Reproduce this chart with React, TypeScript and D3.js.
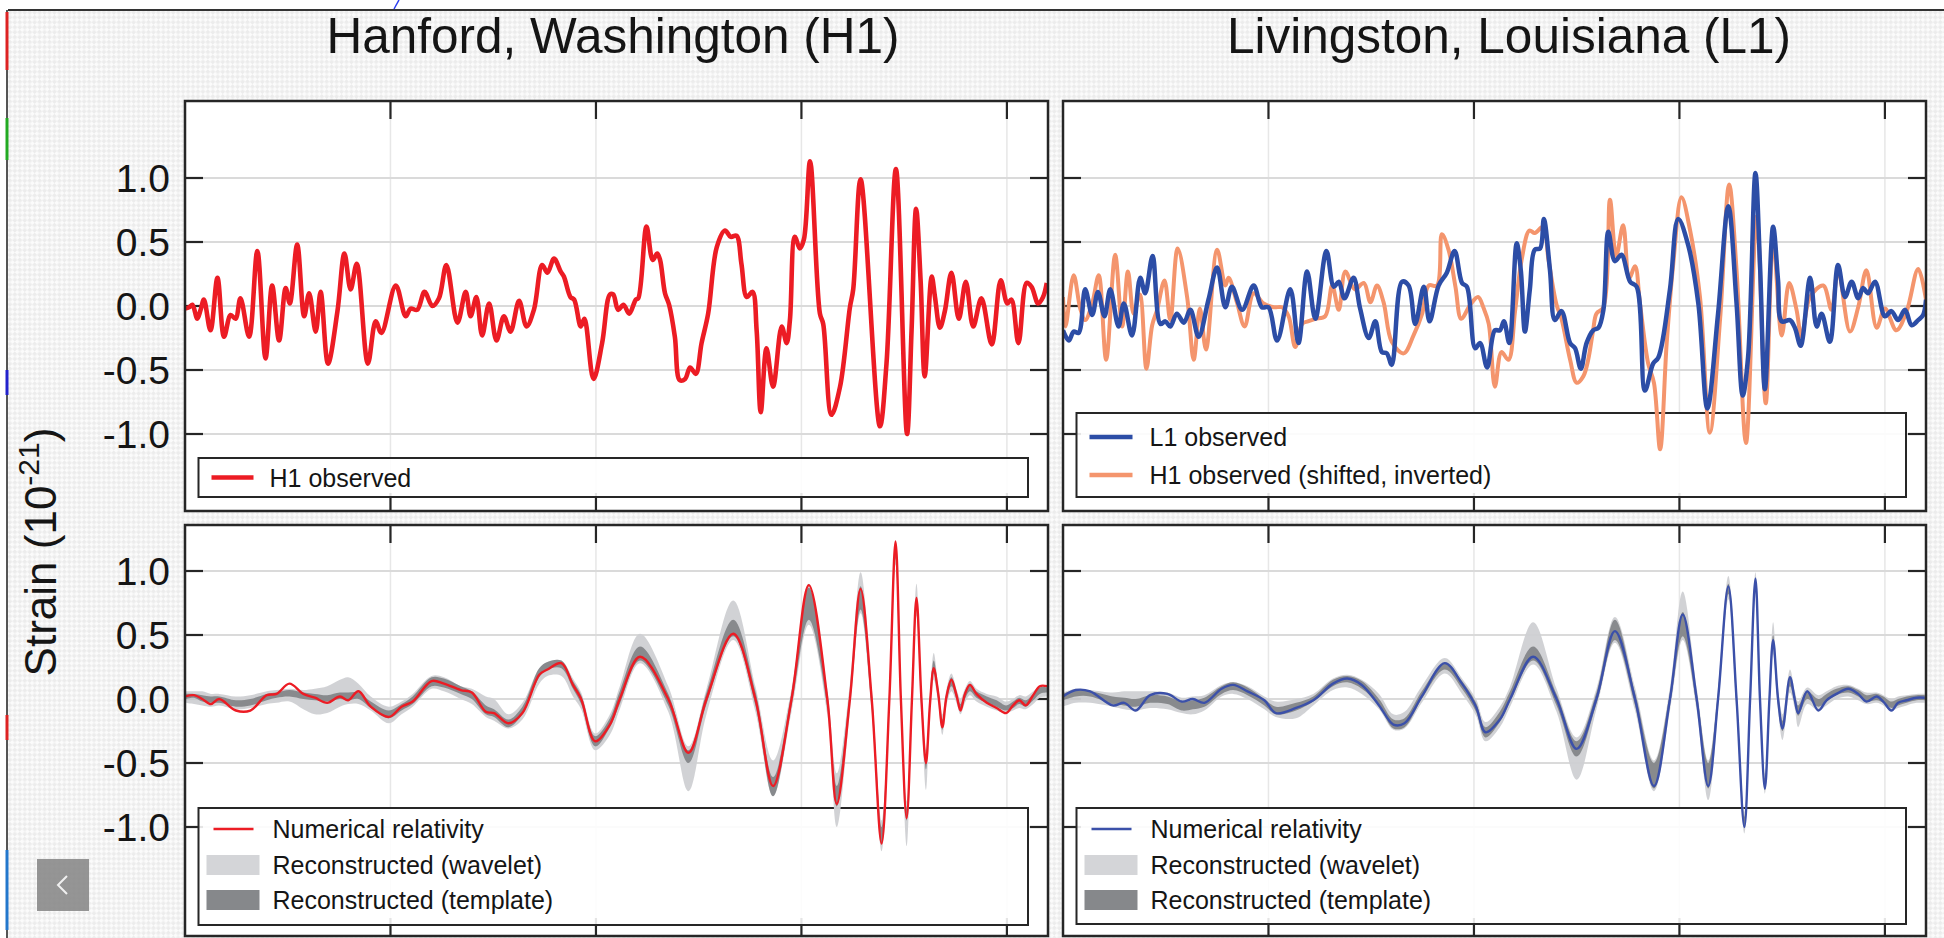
import React from "react";
import * as d3 from "d3";

// ---------------- data (time in s, strain in 1e-21) ----------------
const xTickValues = [0.3, 0.35, 0.4, 0.45];
const yTickValues = [-1, -0.5, 0, 0.5, 1];
const yTickLabels = ["-1.0", "-0.5", "0.0", "0.5", "1.0"];
const titles = ["Hanford, Washington (H1)", "Livingston, Louisiana (L1)"];
const legendTopLeft = ["H1 observed"];
const legendTopRight = ["L1 observed", "H1 observed (shifted, inverted)"];
const legendBottom = ["Numerical relativity", "Reconstructed (wavelet)", "Reconstructed (template)"];

// H1 observed (top-left)
const h1ObsT = [0.25, 0.251, 0.2518, 0.253, 0.2538, 0.2546, 0.2562, 0.2579, 0.2595, 0.2611, 0.2623, 0.2635, 0.2656, 0.2676, 0.2696, 0.2712, 0.2729, 0.2745, 0.2755, 0.2773, 0.279, 0.2802, 0.2818, 0.283, 0.2848, 0.2871, 0.2888, 0.2903, 0.2918, 0.2945, 0.2964, 0.2978, 0.3013, 0.3037, 0.3049, 0.3065, 0.3083, 0.3102, 0.3118, 0.3136, 0.3163, 0.3183, 0.3195, 0.3209, 0.3223, 0.324, 0.3258, 0.3276, 0.3292, 0.3313, 0.3331, 0.3349, 0.3369, 0.3382, 0.3398, 0.3414, 0.3422, 0.3438, 0.3447, 0.3463, 0.3472, 0.3494, 0.3515, 0.3534, 0.3542, 0.3554, 0.3567, 0.3581, 0.3597, 0.3603, 0.3623, 0.3638, 0.3649, 0.3656, 0.3668, 0.3678, 0.3692, 0.3704, 0.3717, 0.3729, 0.3743, 0.3757, 0.3773, 0.3794, 0.3814, 0.3828, 0.3842, 0.3854, 0.3867, 0.3881, 0.3891, 0.3901, 0.3915, 0.3931, 0.3952, 0.3964, 0.3972, 0.3984, 0.3996, 0.4006, 0.4021, 0.4045, 0.4053, 0.4073, 0.4094, 0.4118, 0.4126, 0.4144, 0.4191, 0.4207, 0.423, 0.4257, 0.4268, 0.4279, 0.429, 0.43, 0.4317, 0.4325, 0.4337, 0.4349, 0.4365, 0.4383, 0.44, 0.4418, 0.4438, 0.4463, 0.4485, 0.4501, 0.4511, 0.4528, 0.4548, 0.456, 0.4576, 0.4588, 0.4597];
const h1ObsV = [-0.02, -0.01, 0.01, -0.1, -0.03, 0.05, -0.19, 0.22, -0.24, -0.07, -0.1, 0.06, -0.24, 0.43, -0.41, 0.16, -0.27, 0.14, 0.02, 0.48, -0.08, 0.1, -0.2, 0.11, -0.45, -0.04, 0.41, 0.13, 0.33, -0.45, -0.12, -0.21, 0.16, -0.08, -0.02, -0.03, 0.11, 0.0, 0.06, 0.32, -0.13, 0.11, -0.08, 0.07, -0.23, 0.02, -0.27, -0.08, -0.2, 0.04, -0.16, -0.03, 0.32, 0.26, 0.37, 0.27, 0.23, 0.07, 0.05, -0.16, -0.1, -0.57, -0.29, 0.09, 0.09, -0.03, 0.01, -0.06, 0.05, 0.06, 0.62, 0.36, 0.41, 0.36, 0.1, 0.01, -0.24, -0.58, -0.57, -0.48, -0.53, -0.29, -0.06, 0.46, 0.59, 0.54, 0.55, 0.33, 0.07, 0.11, -0.19, -0.83, -0.33, -0.63, -0.16, -0.29, -0.11, 0.54, 0.45, 0.52, 1.13, -0.06, -0.14, -0.85, -0.63, -0.01, 0.13, 0.99, -0.94, -0.45, 1.07, -1.0, -0.19, 0.76, 0.2, -0.55, 0.23, 0.07, -0.17, -0.04, 0.26, -0.1, 0.19, -0.16, 0.06, -0.3, 0.2, 0.02, 0.05, -0.29, 0.18, 0.15, 0.02, 0.07, 0.18];

// L1 observed (top-right, blue)
const l1ObsT = [0.25, 0.2514, 0.2526, 0.2538, 0.2554, 0.2571, 0.2585, 0.2601, 0.2615, 0.2635, 0.2648, 0.2668, 0.2688, 0.27, 0.2718, 0.2737, 0.2749, 0.2761, 0.2777, 0.2794, 0.281, 0.283, 0.2854, 0.2875, 0.2895, 0.2911, 0.2936, 0.2964, 0.2984, 0.3, 0.3021, 0.3053, 0.3073, 0.3094, 0.3114, 0.3141, 0.3159, 0.3171, 0.3185, 0.3207, 0.3223, 0.3244, 0.326, 0.3276, 0.3288, 0.33, 0.3325, 0.3341, 0.3357, 0.3378, 0.3392, 0.3414, 0.3434, 0.3453, 0.3471, 0.3483, 0.3503, 0.3515, 0.3532, 0.3551, 0.3563, 0.3573, 0.3586, 0.3604, 0.3614, 0.3624, 0.3636, 0.3648, 0.3661, 0.367, 0.3685, 0.3697, 0.3713, 0.3734, 0.3746, 0.376, 0.3774, 0.379, 0.3803, 0.3815, 0.3827, 0.3843, 0.3859, 0.388, 0.3896, 0.3916, 0.3936, 0.3949, 0.3977, 0.3997, 0.4021, 0.4046, 0.4068, 0.4094, 0.4119, 0.4139, 0.4154, 0.4167, 0.4185, 0.4196, 0.4208, 0.4228, 0.424, 0.4249, 0.4269, 0.4281, 0.4295, 0.4318, 0.4334, 0.4346, 0.4366, 0.4386, 0.4403, 0.4419, 0.4435, 0.4447, 0.4459, 0.4476, 0.45, 0.4516, 0.4532, 0.4549, 0.4565, 0.4581, 0.4593, 0.46];
const l1ObsV = [-0.19, -0.27, -0.2, -0.21, 0.13, -0.07, 0.11, -0.08, 0.13, -0.16, 0.02, -0.23, 0.22, 0.1, 0.39, -0.14, -0.12, -0.16, -0.06, -0.13, -0.03, -0.24, 0.05, 0.3, -0.01, 0.15, -0.03, 0.16, -0.01, -0.01, -0.27, 0.13, -0.29, 0.27, -0.1, 0.43, 0.15, 0.19, 0.06, 0.22, -0.02, -0.25, -0.12, -0.36, -0.37, -0.46, 0.19, 0.16, -0.14, 0.15, -0.12, 0.16, 0.26, 0.43, 0.18, 0.15, -0.33, -0.29, -0.48, -0.19, -0.19, -0.12, -0.29, 0.49, 0.28, -0.2, 0.13, 0.44, 0.45, 0.68, 0.28, -0.11, -0.04, -0.29, -0.33, -0.49, -0.29, -0.19, -0.17, -0.03, 0.58, 0.35, 0.4, 0.19, 0.15, -0.66, -0.45, -0.4, 0.13, 0.68, 0.48, 0.02, -0.8, -0.06, 0.78, 0.02, -0.7, -0.4, 1.04, 0.33, -0.65, 0.62, 0.2, -0.12, -0.11, -0.17, -0.31, 0.22, -0.16, -0.06, -0.28, 0.32, 0.07, 0.19, 0.06, 0.14, 0.1, 0.19, -0.08, -0.04, -0.11, -0.03, -0.15, -0.11, -0.07, 0.05];

// H1 observed, shifted and inverted (top-right, orange)
const h1ShiftT = [0.25, 0.2506, 0.2526, 0.2542, 0.2554, 0.2571, 0.2587, 0.2605, 0.2627, 0.2644, 0.2658, 0.2672, 0.2687, 0.2703, 0.2717, 0.2729, 0.2747, 0.2761, 0.2779, 0.2802, 0.2818, 0.2833, 0.2848, 0.2875, 0.2895, 0.2903, 0.2923, 0.2942, 0.2964, 0.2988, 0.3013, 0.3033, 0.3049, 0.3065, 0.3082, 0.3096, 0.3114, 0.3138, 0.3155, 0.3171, 0.3187, 0.321, 0.3232, 0.3248, 0.3264, 0.328, 0.33, 0.3329, 0.3353, 0.3374, 0.339, 0.341, 0.3422, 0.3438, 0.3455, 0.3469, 0.3491, 0.351, 0.3524, 0.3536, 0.3551, 0.3567, 0.3584, 0.36, 0.3616, 0.3635, 0.3648, 0.3669, 0.3681, 0.3701, 0.3713, 0.3734, 0.375, 0.3766, 0.3778, 0.379, 0.3798, 0.3815, 0.3831, 0.3846, 0.3863, 0.3878, 0.3892, 0.3904, 0.3924, 0.3938, 0.3953, 0.3969, 0.3985, 0.4005, 0.4026, 0.405, 0.4074, 0.4099, 0.4121, 0.4139, 0.4162, 0.4188, 0.421, 0.4228, 0.4249, 0.4267, 0.4285, 0.4297, 0.4318, 0.435, 0.437, 0.4386, 0.4415, 0.4435, 0.4455, 0.448, 0.45, 0.4528, 0.4553, 0.4581, 0.46];
const h1ShiftV = [0.07, -0.16, 0.24, -0.02, -0.11, 0.02, 0.24, -0.42, 0.4, -0.16, 0.27, -0.06, 0.09, -0.49, -0.15, -0.03, 0.2, -0.11, 0.45, 0.07, -0.42, -0.02, -0.34, 0.44, 0.16, 0.22, 0.03, -0.16, 0.1, 0.02, -0.01, -0.01, -0.08, -0.32, -0.14, -0.12, -0.1, -0.08, 0.16, -0.03, 0.27, 0.13, 0.18, 0.03, 0.16, 0.03, -0.28, -0.37, -0.23, -0.06, 0.16, 0.16, 0.56, 0.44, 0.15, -0.1, 0.01, 0.07, -0.02, -0.14, -0.63, -0.36, -0.42, -0.04, 0.36, 0.59, 0.57, 0.62, 0.37, 0.01, -0.1, -0.42, -0.6, -0.55, -0.42, -0.19, -0.06, -0.01, 0.83, 0.39, 0.63, 0.22, 0.31, 0.02, -0.45, -0.6, -1.12, -0.29, 0.33, 0.85, 0.59, 0.07, -0.99, -0.1, 0.95, 0.28, -1.07, 0.7, -0.76, 0.52, -0.23, 0.18, -0.03, -0.24, 0.07, 0.16, -0.03, 0.28, -0.2, -0.01, 0.28, -0.17, -0.02, -0.19, -0.04, 0.29, 0.05];

// H1 reconstruction (bottom-left)
const h1RecT = [0.25, 0.2522, 0.2542, 0.2563, 0.2583, 0.2624, 0.2659, 0.2699, 0.2723, 0.2754, 0.2788, 0.2816, 0.2846, 0.2877, 0.2897, 0.2922, 0.2952, 0.2996, 0.3027, 0.3054, 0.31, 0.313, 0.3171, 0.3198, 0.3232, 0.3252, 0.3287, 0.3321, 0.3362, 0.3382, 0.3416, 0.3444, 0.3464, 0.3498, 0.3534, 0.3558, 0.3607, 0.3676, 0.3725, 0.3769, 0.3834, 0.3888, 0.3931, 0.3976, 0.4018, 0.4063, 0.4086, 0.4118, 0.4144, 0.4171, 0.4195, 0.4214, 0.4229, 0.4242, 0.4256, 0.4269, 0.428, 0.4292, 0.4303, 0.4313, 0.4322, 0.4333, 0.4343, 0.4353, 0.4365, 0.4378, 0.4387, 0.4398, 0.441, 0.4426, 0.4451, 0.4475, 0.4498, 0.4515, 0.453, 0.4546, 0.4564, 0.458, 0.4598];
const h1NR = [0.02, 0.03, 0.0, -0.04, 0.0, -0.09, -0.09, 0.03, 0.04, 0.12, 0.04, 0.01, -0.03, 0.02, -0.01, 0.06, -0.06, -0.14, -0.06, -0.02, 0.14, 0.12, 0.07, 0.05, -0.1, -0.11, -0.19, -0.11, 0.19, 0.23, 0.28, 0.11, 0.0, -0.33, -0.2, 0.0, 0.33, 0.0, -0.42, 0.0, 0.51, 0.0, -0.68, 0.0, 0.89, 0.0, -0.82, 0.0, 0.86, 0.0, -1.13, 0.0, 1.23, 0.0, -0.93, 0.0, 0.79, 0.0, -0.5, -0.03, 0.24, 0.04, -0.22, 0.02, 0.15, 0.02, -0.09, 0.04, 0.11, 0.04, -0.03, -0.07, -0.11, -0.05, -0.01, -0.05, 0.03, 0.1, 0.1];
const h1TplLo = [0.0, 0.01, -0.02, -0.03, -0.03, -0.06, -0.05, -0.01, 0.01, 0.02, 0.0, -0.01, -0.02, 0.0, -0.01, 0.0, -0.07, -0.15, -0.09, -0.04, 0.1, 0.09, 0.04, 0.0, -0.12, -0.14, -0.22, -0.12, 0.17, 0.23, 0.24, 0.08, -0.04, -0.37, -0.22, -0.04, 0.3, -0.05, -0.5, -0.04, 0.49, -0.05, -0.76, -0.05, 0.62, -0.06, -0.84, -0.05, 0.7, -0.06, -1.13, -0.06, 1.1, -0.06, -0.95, -0.06, 0.7, -0.06, -0.55, -0.06, 0.2, 0.0, -0.24, -0.02, 0.1, -0.01, -0.09, 0.0, 0.06, 0.01, -0.03, -0.06, -0.09, -0.07, -0.04, -0.06, -0.01, 0.04, 0.05];
const h1TplHi = [0.04, 0.04, 0.03, 0.02, 0.02, -0.01, 0.0, 0.04, 0.05, 0.07, 0.05, 0.04, 0.03, 0.05, 0.05, 0.05, -0.02, -0.09, -0.04, 0.02, 0.17, 0.16, 0.1, 0.06, -0.05, -0.08, -0.16, -0.06, 0.24, 0.29, 0.3, 0.14, 0.03, -0.29, -0.15, 0.06, 0.41, 0.04, -0.4, 0.05, 0.62, 0.06, -0.61, 0.05, 0.87, 0.05, -0.68, 0.06, 0.88, 0.06, -1.0, 0.06, 1.2, 0.06, -0.85, 0.06, 0.8, 0.06, -0.45, 0.03, 0.3, 0.08, -0.16, 0.05, 0.17, 0.05, -0.04, 0.06, 0.12, 0.06, 0.02, -0.01, -0.05, -0.02, 0.01, -0.01, 0.04, 0.09, 0.09];
const h1WavLo = [-0.03, -0.04, -0.05, -0.06, -0.05, -0.08, -0.07, -0.04, -0.03, -0.02, -0.08, -0.12, -0.11, -0.06, -0.04, -0.04, -0.09, -0.19, -0.12, -0.06, 0.08, 0.06, 0.0, -0.04, -0.14, -0.17, -0.23, -0.16, 0.12, 0.18, 0.18, 0.02, -0.08, -0.4, -0.28, -0.08, 0.28, -0.1, -0.72, -0.12, 0.46, -0.1, -0.76, -0.1, 0.58, -0.12, -1.0, -0.1, 0.67, -0.1, -1.19, -0.1, 1.05, -0.1, -1.15, -0.1, 0.65, -0.1, -0.71, -0.1, 0.15, -0.04, -0.28, -0.05, 0.06, -0.04, -0.12, -0.03, 0.03, -0.02, -0.06, -0.09, -0.11, -0.09, -0.07, -0.08, -0.04, 0.01, 0.02];
const h1WavHi = [0.06, 0.06, 0.06, 0.04, 0.04, 0.02, 0.03, 0.06, 0.07, 0.08, 0.07, 0.08, 0.1, 0.15, 0.17, 0.12, 0.02, -0.06, -0.02, 0.04, 0.18, 0.17, 0.1, 0.08, 0.02, 0.0, -0.12, -0.03, 0.24, 0.29, 0.3, 0.16, 0.05, -0.27, -0.12, 0.1, 0.51, 0.1, -0.37, 0.08, 0.77, 0.1, -0.48, 0.08, 0.9, 0.08, -0.58, 0.12, 0.99, 0.1, -0.95, 0.1, 1.24, 0.1, -0.8, 0.1, 0.9, 0.1, -0.4, 0.06, 0.36, 0.1, -0.12, 0.08, 0.2, 0.07, 0.0, 0.08, 0.14, 0.08, 0.04, 0.02, -0.02, 0.0, 0.03, 0.02, 0.06, 0.1, 0.1];

// L1 reconstruction (bottom-right)
const l1RecT = [0.25, 0.2531, 0.2566, 0.2621, 0.2649, 0.2677, 0.2712, 0.2754, 0.2789, 0.2816, 0.2844, 0.2886, 0.2914, 0.2949, 0.299, 0.3018, 0.3067, 0.3109, 0.3157, 0.3192, 0.3227, 0.3269, 0.3304, 0.3331, 0.3373, 0.3429, 0.3471, 0.3505, 0.3528, 0.3563, 0.3588, 0.3644, 0.3701, 0.375, 0.3798, 0.3843, 0.3892, 0.3938, 0.3977, 0.4008, 0.4042, 0.407, 0.4094, 0.4119, 0.4139, 0.4158, 0.4172, 0.4185, 0.4196, 0.4208, 0.4219, 0.4228, 0.424, 0.4251, 0.4269, 0.4281, 0.4289, 0.4311, 0.4338, 0.4358, 0.4382, 0.4411, 0.4435, 0.4455, 0.448, 0.4496, 0.4516, 0.4532, 0.4553, 0.4577, 0.4597];
const l1NR = [0.02, 0.07, 0.06, -0.05, -0.03, -0.09, 0.03, 0.04, -0.02, 0.0, -0.03, 0.08, 0.11, 0.06, -0.01, -0.11, -0.07, -0.01, 0.12, 0.16, 0.11, -0.05, -0.2, -0.19, 0.02, 0.28, 0.12, -0.06, -0.26, -0.16, 0.0, 0.33, 0.0, -0.39, 0.0, 0.53, 0.0, -0.68, 0.0, 0.66, 0.0, -0.68, 0.0, 0.88, 0.0, -1.0, 0.0, 0.94, 0.0, -0.7, 0.0, 0.46, 0.0, -0.23, 0.17, -0.01, -0.11, 0.06, -0.09, -0.01, 0.04, 0.08, 0.04, -0.02, 0.02, -0.02, -0.09, -0.03, -0.01, 0.01, 0.01];
const l1TplLo = [-0.01, 0.02, 0.02, -0.04, -0.05, -0.06, -0.03, -0.04, -0.09, -0.08, -0.06, 0.04, 0.07, 0.03, -0.05, -0.12, -0.09, -0.02, 0.1, 0.13, 0.08, -0.05, -0.23, -0.22, 0.0, 0.23, 0.08, -0.1, -0.3, -0.18, -0.02, 0.3, -0.05, -0.45, -0.04, 0.46, -0.05, -0.7, -0.05, 0.49, -0.05, -0.7, -0.05, 0.82, -0.05, -1.0, -0.05, 0.88, -0.05, -0.71, -0.05, 0.4, -0.05, -0.25, 0.1, -0.04, -0.13, 0.0, -0.06, -0.02, 0.03, 0.05, 0.02, -0.02, -0.01, -0.03, -0.07, -0.05, -0.03, -0.01, -0.01];
const l1TplHi = [0.04, 0.07, 0.06, 0.02, 0.01, 0.0, 0.03, 0.02, -0.02, -0.01, 0.01, 0.1, 0.13, 0.09, 0.0, -0.06, -0.03, 0.02, 0.15, 0.18, 0.14, 0.0, -0.16, -0.15, 0.06, 0.28, 0.14, -0.03, -0.22, -0.1, 0.06, 0.41, 0.04, -0.33, 0.05, 0.62, 0.05, -0.5, 0.05, 0.68, 0.05, -0.5, 0.05, 0.9, 0.05, -0.92, 0.05, 0.95, 0.05, -0.62, 0.05, 0.5, 0.05, -0.17, 0.17, 0.03, -0.05, 0.06, 0.0, 0.04, 0.08, 0.1, 0.07, 0.03, 0.04, 0.02, -0.02, 0.0, 0.02, 0.03, 0.03];
const l1WavLo = [-0.06, -0.03, -0.03, -0.06, -0.08, -0.09, -0.07, -0.08, -0.11, -0.12, -0.09, 0.02, 0.04, 0.0, -0.08, -0.14, -0.15, -0.05, 0.07, 0.09, 0.04, -0.08, -0.24, -0.23, -0.03, 0.2, 0.04, -0.13, -0.33, -0.22, -0.06, 0.27, -0.1, -0.63, -0.08, 0.44, -0.09, -0.72, -0.09, 0.46, -0.09, -0.79, -0.09, 0.78, -0.09, -1.05, -0.09, 0.84, -0.09, -0.74, -0.09, 0.35, -0.09, -0.32, 0.05, -0.08, -0.22, -0.04, -0.09, -0.05, 0.0, 0.02, -0.01, -0.04, -0.03, -0.05, -0.09, -0.07, -0.05, -0.03, -0.03];
const l1WavHi = [0.05, 0.08, 0.07, 0.05, 0.06, 0.06, 0.06, 0.05, 0.01, 0.02, 0.03, 0.11, 0.13, 0.1, 0.02, -0.02, 0.0, 0.04, 0.16, 0.19, 0.15, 0.04, -0.12, -0.1, 0.1, 0.32, 0.16, 0.0, -0.18, -0.06, 0.1, 0.6, 0.08, -0.3, 0.08, 0.64, 0.09, -0.48, 0.09, 0.84, 0.09, -0.48, 0.09, 0.96, 0.09, -0.88, 0.09, 0.99, 0.09, -0.58, 0.09, 0.6, 0.09, -0.12, 0.23, 0.06, -0.02, 0.09, 0.03, 0.06, 0.1, 0.11, 0.08, 0.05, 0.05, 0.03, 0.0, 0.02, 0.03, 0.04, 0.04];

// ---------------- layout & style ----------------
const W = 1944;
const H = 938;
const FONT = "'Liberation Sans', Arial, Helvetica, sans-serif";
const colLeft = [185, 1063];
const plotW = 863;
const rows = [
  { top: 101, bottom: 511, domain: [-1.6, 1.6], range: [510.8, 101.2] },
  { top: 525, bottom: 936, domain: [-1, 1], range: [827, 571] },
];
const C = {
  red: "#ec1c24",
  blue: "#2c4da6",
  nrBlue: "#3b50a9",
  orange: "#f4956d",
  wavelet: "#cfd0d3",
  template: "#7f8285",
  grid: "#dadada",
  vgrid: "#e7e7e7",
  frame: "#262626",
  text: "#151515",
};

type Pt = [number, number];
const zip = (t: number[], v: number[]): Pt[] => t.map((tt, i) => [tt, v[i]]);

function Panel(props: {
  id: string;
  col: number;
  row: number;
  children: (x: d3.ScaleLinear<number, number>, y: d3.ScaleLinear<number, number>) => React.ReactNode;
  legend: (x0: number) => React.ReactNode;
  legendBox: { y: number; h: number };
}) {
  const r = rows[props.row];
  const x0 = colLeft[props.col];
  const x = d3.scaleLinear().domain([0.25, 0.46]).range([x0, x0 + plotW]);
  const y = d3.scaleLinear().domain(r.domain).range(r.range);
  const tickLen = 18;
  return (
    <g>
      <defs>
        <clipPath id={props.id}>
          <rect x={x0} y={r.top} width={plotW} height={r.bottom - r.top} />
        </clipPath>
      </defs>
      <rect x={x0} y={r.top} width={plotW} height={r.bottom - r.top} fill="#fff" />
      {xTickValues.map((t) => (
        <line key={"vg" + t} x1={x(t)} x2={x(t)} y1={r.top} y2={r.bottom} stroke={C.vgrid} strokeWidth={1.5} />
      ))}
      {yTickValues.map((v) => (
        <line key={"hg" + v} x1={x0} x2={x0 + plotW} y1={y(v)} y2={y(v)} stroke={C.grid} strokeWidth={2} />
      ))}
      {xTickValues.map((t) => (
        <g key={"xt" + t}>
          <line x1={x(t)} x2={x(t)} y1={r.top} y2={r.top + tickLen} stroke={C.frame} strokeWidth={2.2} />
          <line x1={x(t)} x2={x(t)} y1={r.bottom} y2={r.bottom - tickLen} stroke={C.frame} strokeWidth={2.2} />
        </g>
      ))}
      {yTickValues.map((v) => (
        <g key={"yt" + v}>
          <line x1={x0} x2={x0 + tickLen} y1={y(v)} y2={y(v)} stroke={C.frame} strokeWidth={2.2} />
          <line x1={x0 + plotW} x2={x0 + plotW - tickLen} y1={y(v)} y2={y(v)} stroke={C.frame} strokeWidth={2.2} />
        </g>
      ))}
      {props.col === 0 &&
        yTickValues.map((v, i) => (
          <text key={"yl" + v} x={x0 - 15} y={y(v)} dy="0.36em" textAnchor="end" fontSize={39} fontFamily={FONT} fill={C.text}>
            {yTickLabels[i]}
          </text>
        ))}
      <rect
        x={x0 + 13.5}
        y={props.legendBox.y}
        width={plotW - 33.5}
        height={props.legendBox.h}
        fill="#fff"
        fillOpacity={0.88}
        stroke={C.frame}
        strokeWidth={2}
      />
      <g clipPath={`url(#${props.id})`}>{props.children(x, y)}</g>
      {props.legend(x0 + 13.5)}
      <rect x={x0} y={r.top} width={plotW} height={r.bottom - r.top} fill="none" stroke={C.frame} strokeWidth={2.5} />
    </g>
  );
}

const lineGen = (x: d3.ScaleLinear<number, number>, y: d3.ScaleLinear<number, number>) =>
  d3
    .line<Pt>()
    .x((d) => x(d[0]))
    .y((d) => y(d[1]))
    .curve(d3.curveCatmullRom.alpha(0.5));

const bandGen = (x: d3.ScaleLinear<number, number>, y: d3.ScaleLinear<number, number>, t: number[], lo: number[], hi: number[]) =>
  d3
    .area<number>()
    .x((i) => x(t[i]))
    .y0((i) => y(lo[i]))
    .y1((i) => y(hi[i]))
    .curve(d3.curveCatmullRom.alpha(0.5))(d3.range(t.length)) || "";

function LegendText(props: { x: number; y: number; children: React.ReactNode }) {
  return (
    <text x={props.x} y={props.y} dy="0.36em" fontSize={25} fontFamily={FONT} fill={C.text}>
      {props.children}
    </text>
  );
}

function BottomLegend(lx: number, color: string) {
  const ys = [829, 865, 900];
  return (
    <g>
      <line x1={lx + 15} x2={lx + 55} y1={ys[0]} y2={ys[0]} stroke={color} strokeWidth={2.5} />
      <rect x={lx + 8} y={ys[1] - 10} width={53} height={20} fill="#d4d5d8" />
      <rect x={lx + 8} y={ys[2] - 10} width={53} height={20} fill="#86888b" />
      {legendBottom.map((s, i) => (
        <LegendText key={s} x={lx + 74} y={ys[i]}>
          {s}
        </LegendText>
      ))}
    </g>
  );
}

export default function App() {
  const h1Obs = zip(h1ObsT, h1ObsV);
  const l1Obs = zip(l1ObsT, l1ObsV);
  const h1Shift = zip(h1ShiftT, h1ShiftV);
  const h1Nr = zip(h1RecT, h1NR);
  const l1Nr = zip(l1RecT, l1NR);

  return (
    <svg width={W} height={H} style={{ position: "absolute", left: 0, top: 0, display: "block" }} xmlns="http://www.w3.org/2000/svg">
      <defs>
        <pattern id="bgpat" width="7" height="7" patternUnits="userSpaceOnUse" patternTransform="rotate(45)">
          <rect width="7" height="7" fill="#fbfbfb" />
          <rect width="3.5" height="3.5" fill="#ececec" />
          <rect x="3.5" y="3.5" width="3.5" height="3.5" fill="#ececec" />
        </pattern>
      </defs>
      <rect width={W} height={H} fill="#fff" />
      <rect x={8} y={10} width={W - 8} height={H - 10} fill="url(#bgpat)" />
      <line x1={8} x2={W} y1={10} y2={10} stroke="#333" strokeWidth={2} />
      <line x1={7} x2={7} y1={10} y2={H} stroke="#555" strokeWidth={2} />
      <line x1={7} x2={7} y1={12} y2={70} stroke="#d22" strokeWidth={3} />
      <line x1={7} x2={7} y1={118} y2={160} stroke="#2a2" strokeWidth={3} />
      <line x1={7} x2={7} y1={370} y2={395} stroke="#22c" strokeWidth={3} />
      <line x1={7} x2={7} y1={715} y2={740} stroke="#d22" strokeWidth={3} />
      <line x1={7} x2={7} y1={850} y2={930} stroke="#27c" strokeWidth={3} />
      <path d="M399 0 L394 9" stroke="#2a3cf0" strokeWidth={1.5} fill="none" />

      <text x={613} y={53} textAnchor="middle" fontSize={49.5} fontFamily={FONT} fill={C.text}>
        {titles[0]}
      </text>
      <text x={1509} y={53} textAnchor="middle" fontSize={49.5} fontFamily={FONT} fill={C.text}>
        {titles[1]}
      </text>

      <text transform="translate(56,552) rotate(-90)" textAnchor="middle" fontSize={44} fontFamily={FONT} fill={C.text}>
        Strain (10
        <tspan fontSize={30} dy={-17}>
          -21
        </tspan>
        <tspan dy={17}>)</tspan>
      </text>

      {/* top-left: H1 observed */}
      <Panel
        id="clipTL"
        col={0}
        row={0}
        legendBox={{ y: 458, h: 39 }}
        legend={(lx) => (
          <g>
            <line x1={lx + 13} x2={lx + 55} y1={477.5} y2={477.5} stroke={C.red} strokeWidth={4.5} />
            <LegendText x={lx + 71} y={477.5}>
              {legendTopLeft[0]}
            </LegendText>
          </g>
        )}
      >
        {(x, y) => <path d={lineGen(x, y)(h1Obs) || ""} fill="none" stroke={C.red} strokeWidth={4.6} strokeLinejoin="round" />}
      </Panel>

      {/* top-right: L1 observed + H1 shifted */}
      <Panel
        id="clipTR"
        col={1}
        row={0}
        legendBox={{ y: 413, h: 84 }}
        legend={(lx) => (
          <g>
            <line x1={lx + 13} x2={lx + 56} y1={437} y2={437} stroke={C.blue} strokeWidth={4.5} />
            <line x1={lx + 13} x2={lx + 56} y1={475} y2={475} stroke={C.orange} strokeWidth={4.5} />
            <LegendText x={lx + 73} y={437}>
              {legendTopRight[0]}
            </LegendText>
            <LegendText x={lx + 73} y={475}>
              {legendTopRight[1]}
            </LegendText>
          </g>
        )}
      >
        {(x, y) => (
          <g>
            <path d={lineGen(x, y)(h1Shift) || ""} fill="none" stroke={C.orange} strokeWidth={4} strokeLinejoin="round" />
            <path d={lineGen(x, y)(l1Obs) || ""} fill="none" stroke={C.blue} strokeWidth={4.5} strokeLinejoin="round" />
          </g>
        )}
      </Panel>

      {/* bottom-left: H1 reconstruction */}
      <Panel id="clipBL" col={0} row={1} legendBox={{ y: 808, h: 117 }} legend={(lx) => BottomLegend(lx, C.red)}>
        {(x, y) => (
          <g>
            <path d={bandGen(x, y, h1RecT, h1WavLo, h1WavHi)} fill={C.wavelet} fillOpacity={0.95} />
            <path d={bandGen(x, y, h1RecT, h1TplLo, h1TplHi)} fill={C.template} fillOpacity={0.9} />
            <path d={lineGen(x, y)(h1Nr) || ""} fill="none" stroke={C.red} strokeWidth={2.4} strokeLinejoin="round" />
          </g>
        )}
      </Panel>

      {/* bottom-right: L1 reconstruction */}
      <Panel id="clipBR" col={1} row={1} legendBox={{ y: 808, h: 116 }} legend={(lx) => BottomLegend(lx, C.nrBlue)}>
        {(x, y) => (
          <g>
            <path d={bandGen(x, y, l1RecT, l1WavLo, l1WavHi)} fill={C.wavelet} fillOpacity={0.95} />
            <path d={bandGen(x, y, l1RecT, l1TplLo, l1TplHi)} fill={C.template} fillOpacity={0.9} />
            <path d={lineGen(x, y)(l1Nr) || ""} fill="none" stroke={C.nrBlue} strokeWidth={2.4} strokeLinejoin="round" />
          </g>
        )}
      </Panel>

      {/* slideshow button */}
      <rect x={37} y={859} width={52} height={52} fill="#8a8a8a" fillOpacity={0.9} />
      <path d="M67 876 L58 885 L67 894" fill="none" stroke="#f0f0f0" strokeWidth={2} />
    </svg>
  );
}
